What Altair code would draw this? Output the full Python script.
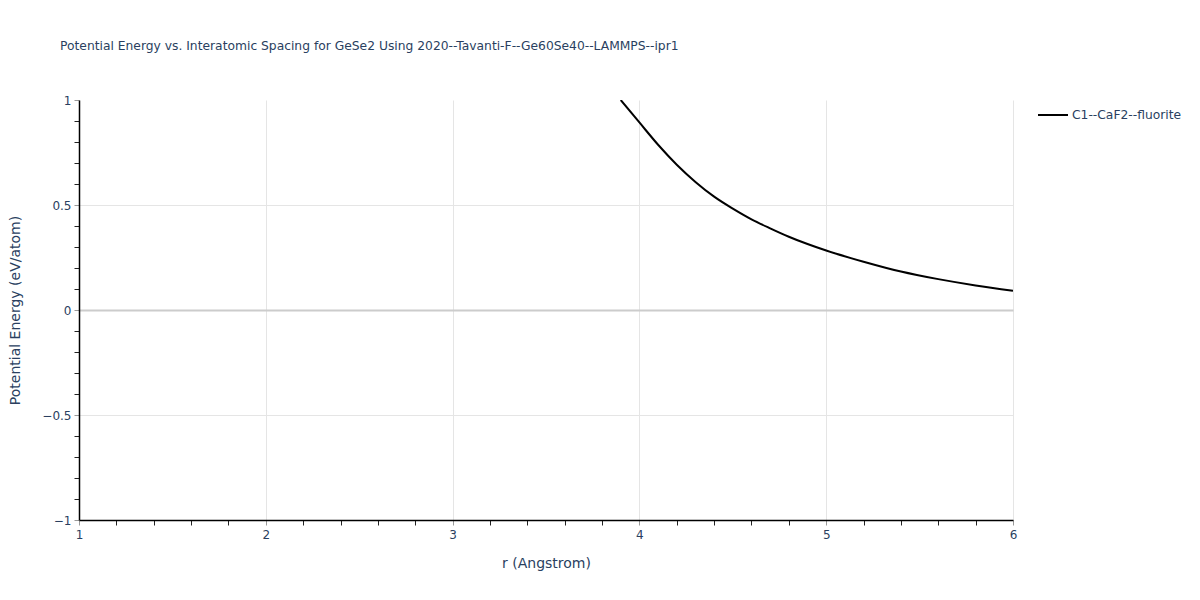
import altair as alt
import pandas as pd

r_values = [3.9, 4.0, 4.1, 4.2, 4.3, 4.4, 4.5, 4.6, 4.7, 4.8, 4.9, 5.0, 5.2, 5.4, 5.6, 5.8, 6.0]
energies = [1.0, 0.893, 0.787, 0.692, 0.61, 0.54, 0.483, 0.432, 0.389, 0.349, 0.314, 0.283, 0.23, 0.183, 0.147, 0.117, 0.092]
series = ["C1--CaF2--fluorite"] * len(r_values)

x_ticks = [round(1 + 0.2 * i, 1) for i in range(26)]
y_ticks = [round(-1 + 0.1 * i, 1) for i in range(21)]

df = pd.DataFrame({"r": r_values, "E": energies, "structure": series})

FONT = "DejaVu Sans"
TXT = "#2a3f5f"

chart = alt.Chart(df).mark_line(color="black", strokeWidth=2, clip=True, interpolate="monotone").encode(
    x=alt.X(
        "r:Q",
        scale=alt.Scale(domain=[1, 6], nice=False, zero=False),
        axis=alt.Axis(
            title="r (Angstrom)",
            values=x_ticks,
            labelExpr="datum.value % 1 === 0 ? format(datum.value, '~g') : ''",
            grid=True,
            gridColor="#e5e5e5",
            gridOpacity={"condition": {"test": "datum.value % 1 === 0", "value": 1}, "value": 0},
            tickColor={"condition": {"test": "datum.value % 1 === 0", "value": "#999999"}, "value": "#222222"},
            tickSize=5,
            tickWidth=1,
            domainColor="black",
            domainWidth=1.5,
            labelFont=FONT,
            labelFontSize=12,
            labelColor=TXT,
            labelPadding=4,
            labelFlush=False,
            labelOverlap=False,
            titleFont=FONT,
            titleFontSize=14,
            titleFontWeight="normal",
            titleColor=TXT,
            titleY=43,
            titleBaseline="middle",
        ),
    ),
    y=alt.Y(
        "E:Q",
        scale=alt.Scale(domain=[-1, 1], nice=False, zero=False),
        axis=alt.Axis(
            title="Potential Energy (eV/atom)",
            values=y_ticks,
            labelExpr="abs(datum.value * 2 - round(datum.value * 2)) < 1e-6 ? format(datum.value, '~g') : ''",
            grid=True,
            gridColor={"condition": {"test": "abs(datum.value) < 1e-6", "value": "#cccccc"}, "value": "#e5e5e5"},
            gridWidth={"condition": {"test": "abs(datum.value) < 1e-6", "value": 2}, "value": 1},
            gridOpacity={"condition": {"test": "abs(datum.value * 2 - round(datum.value * 2)) < 1e-6 && abs(abs(datum.value) - 1) > 1e-6", "value": 1}, "value": 0},
            tickColor={"condition": {"test": "abs(datum.value * 2 - round(datum.value * 2)) < 1e-6", "value": "#999999"}, "value": "#222222"},
            tickSize=5,
            tickWidth=1,
            domainColor="black",
            domainWidth=1.5,
            labelFont=FONT,
            labelFontSize=12,
            labelColor=TXT,
            labelPadding=3,
            labelFlush=False,
            labelOverlap=False,
            titleFont=FONT,
            titleFontSize=14,
            titleFontWeight="normal",
            titleColor=TXT,
            titleX=-64,
            titleBaseline="middle",
        ),
    ),
    stroke=alt.Stroke(
        "structure:N",
        scale=alt.Scale(range=["black"]),
        legend=alt.Legend(
            title=None,
            orient="none",
            legendX=958,
            legendY=-1,
            symbolType="stroke",
            symbolSize=900,
            symbolStrokeWidth=2,
            symbolStrokeColor="black",
            labelFont=FONT,
            labelFontSize=12.3,
            labelColor=TXT,
            labelOffset=3,
        ),
    ),
).properties(
    width=934,
    height=420,
    autosize=alt.AutoSizeParams(type="none"),
    padding={"left": 71, "top": 92, "right": 175, "bottom": 70},
    title=alt.TitleParams(
        "Potential Energy vs. Interatomic Spacing for GeSe2 Using 2020--Tavanti-F--Ge60Se40--LAMMPS--ipr1",
        anchor="start",
        frame="group",
        dx=-19,
        offset=42,
        font=FONT,
        fontSize=12.3,
        fontWeight="normal",
        color=TXT,
    ),
).configure_view(stroke=None)

chart.save("out.html", embed_options={"renderer": "svg", "actions": False})
